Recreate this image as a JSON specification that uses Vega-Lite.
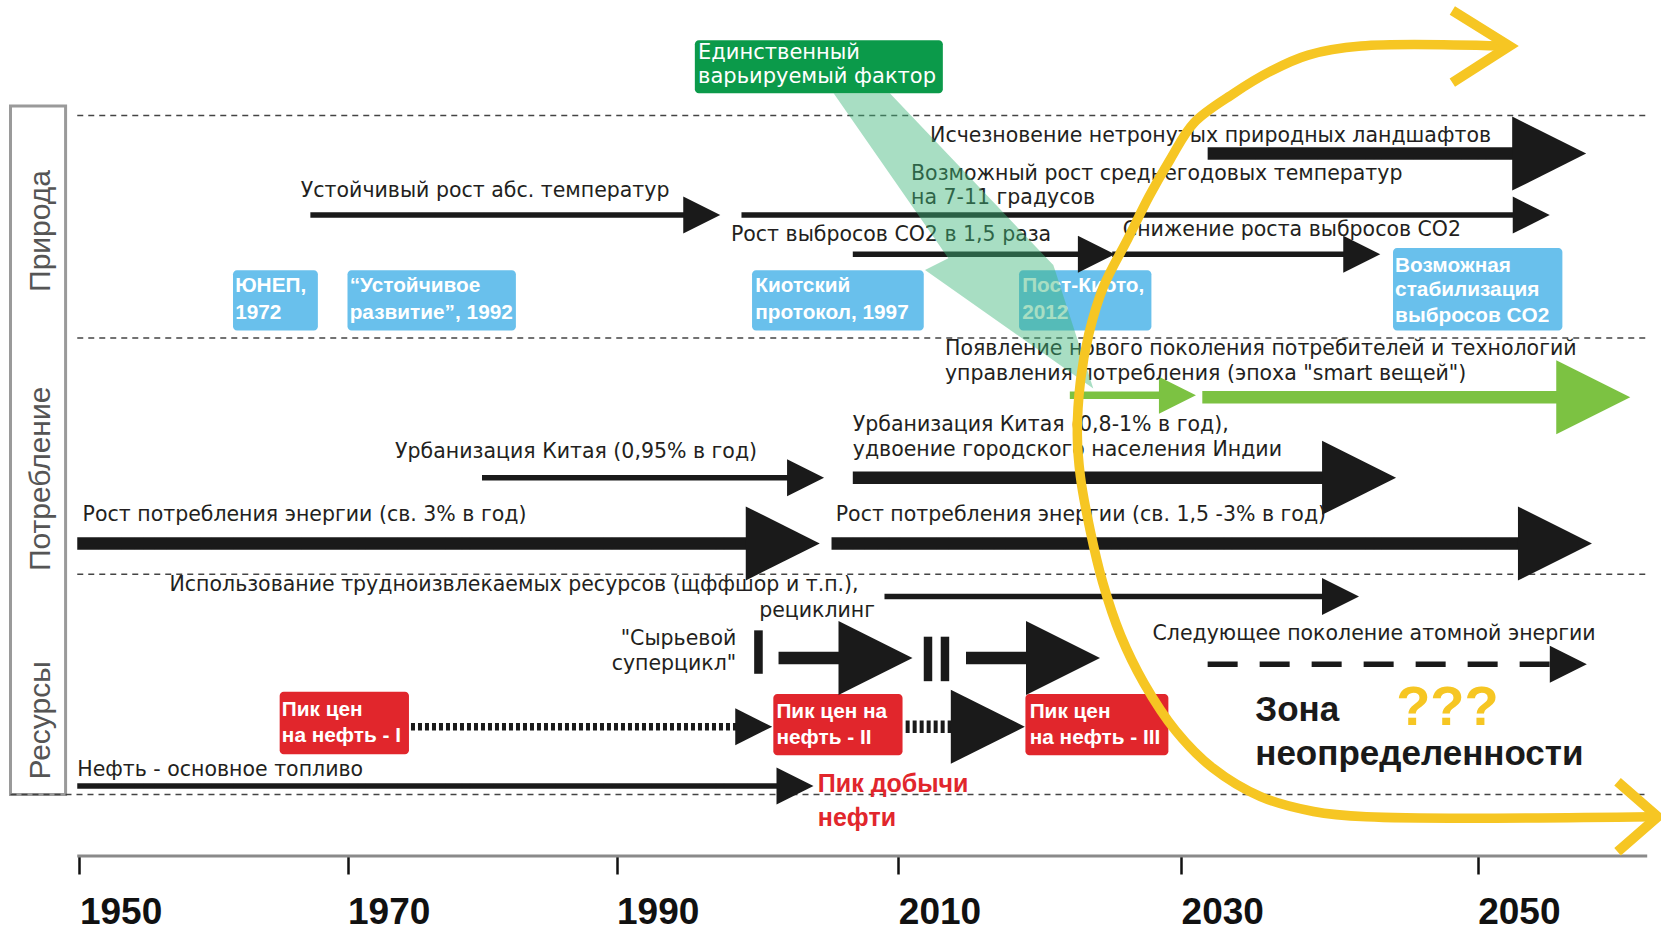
{
"$schema": "https://vega.github.io/schema/vega-lite/v6.json",
"width": 1661, "height": 856,
"autosize": {"type": "none"},
"padding": {"left": 0, "top": 0, "right": 0, "bottom": 77},
"background": "#ffffff",
"config": {"view": {"stroke": null}},
"datasets": {
"arrows": [
{"id": "a1", "x": 2031.79, "x2": 2054.82, "y": 14.5, "w": "major", "head": "big", "tone": "dark", "dash": "solid"},
{"id": "a2", "x": 1967.23, "x2": 1996.05, "y": 20.3, "w": "minor", "head": "small", "tone": "dark", "dash": "solid"},
{"id": "a3", "x": 1998.87, "x2": 2053.61, "y": 20.3, "w": "minor", "head": "small", "tone": "dark", "dash": "solid"},
{"id": "a4", "x": 2006.77, "x2": 2024.01, "y": 24.0, "w": "minor", "head": "small", "tone": "dark", "dash": "solid"},
{"id": "a5", "x": 2025.13, "x2": 2042.18, "y": 24.0, "w": "minor", "head": "small", "tone": "dark", "dash": "solid"},
{"id": "a6", "x": 2022.13, "x2": 2029.74, "y": 37.3, "w": "mid", "head": "small", "tone": "green", "dash": "solid"},
{"id": "a7", "x": 2031.43, "x2": 2057.79, "y": 37.5, "w": "major", "head": "big", "tone": "green", "dash": "solid"},
{"id": "a8", "x": 1980.00, "x2": 2003.42, "y": 45.1, "w": "minor", "head": "small", "tone": "dark", "dash": "solid"},
{"id": "a9", "x": 2006.77, "x2": 2042.00, "y": 45.1, "w": "major", "head": "big", "tone": "dark", "dash": "solid"},
{"id": "a10", "x": 1949.84, "x2": 2001.80, "y": 51.3, "w": "major", "head": "big", "tone": "dark", "dash": "solid"},
{"id": "a11", "x": 2005.26, "x2": 2055.21, "y": 51.3, "w": "major", "head": "big", "tone": "dark", "dash": "solid"},
{"id": "a12", "x": 2009.02, "x2": 2040.75, "y": 56.3, "w": "minor", "head": "small", "tone": "dark", "dash": "solid"},
{"id": "a13", "x": 2001.50, "x2": 2008.38, "y": 62.1, "w": "major", "head": "big", "tone": "dark", "dash": "solid"},
{"id": "a14", "x": 2014.79, "x2": 2021.65, "y": 62.1, "w": "major", "head": "big", "tone": "dark", "dash": "solid"},
{"id": "a15", "x": 2031.79, "x2": 2056.11, "y": 62.7, "w": "minor", "head": "small", "tone": "dark", "dash": "dashed"},
{"id": "a16", "x": 1974.72, "x2": 1999.74, "y": 68.6, "w": "mid", "head": "small", "tone": "dark", "dash": "dotted"},
{"id": "a17", "x": 2010.52, "x2": 2016.33, "y": 68.6, "w": "major", "head": "big", "tone": "dark", "dash": "dotted"},
{"id": "a18", "x": 1949.84, "x2": 2002.67, "y": 74.2, "w": "minor", "head": "small", "tone": "dark", "dash": "solid"}
],
"boxes": [
{"kind": "frame", "x": 1944.86, "x2": 1948.97, "y": 10.0, "y2": 75.0},
{"kind": "blue", "x": 1961.46, "x2": 1967.79, "y": 25.5, "y2": 31.2},
{"kind": "blue", "x": 1970.00, "x2": 1982.52, "y": 25.5, "y2": 31.2},
{"kind": "blue", "x": 1999.62, "x2": 2011.80, "y": 25.5, "y2": 31.2},
{"kind": "blue", "x": 2018.54, "x2": 2027.90, "y": 25.5, "y2": 31.2},
{"kind": "blue", "x": 2044.29, "x2": 2055.71, "y": 23.4, "y2": 31.2},
{"kind": "red", "x": 1964.94, "x2": 1974.57, "y": 65.3, "y2": 71.2},
{"kind": "red", "x": 2001.13, "x2": 2010.30, "y": 65.5, "y2": 71.3},
{"kind": "red", "x": 2018.99, "x2": 2029.10, "y": 65.5, "y2": 71.3},
{"kind": "green", "x": 1995.56, "x2": 2013.15, "y": 3.8, "y2": 8.8},
{"kind": "bar", "x": 1999.77, "x2": 2000.38, "y": 59.5, "y2": 63.6},
{"kind": "bar", "x": 2011.80, "x2": 2012.40, "y": 60.1, "y2": 64.3},
{"kind": "bar", "x": 2013.00, "x2": 2013.60, "y": 60.1, "y2": 64.3}
],
"seps": [
{"x": 1949.84, "x2": 2061.43, "y": 10.9},
{"x": 1949.84, "x2": 2061.43, "y": 31.9},
{"x": 1949.84, "x2": 2061.43, "y": 54.2},
{"x": 1944.86, "x2": 2061.43, "y": 75.0}
],
"axisline": [
{"x": 1949.84, "x2": 2061.43, "y": 80.8}
],
"labels": [
{"s": "body", "t": "Исчезновение нетронутых природных ландшафтов", "x": 2012.25, "y": 12.8},
{"s": "body", "t": "Устойчивый рост абс. температур", "x": 1966.52, "y": 18.0},
{"s": "body", "t": "Возможный рост среднегодовых температур", "x": 2010.90, "y": 16.4},
{"s": "body", "t": "на 7-11 градусов", "x": 2010.90, "y": 18.7},
{"s": "body", "t": "Рост выбросов CO2 в 1,5 раза", "x": 1998.12, "y": 22.2},
{"s": "body", "t": "Снижение роста выбросов CO2", "x": 2025.88, "y": 21.7},
{"s": "body", "t": "Появление нового поколения потребителей и технологий", "x": 2013.30, "y": 32.9},
{"s": "body", "t": "управления потребления (эпоха \"smart вещей\")", "x": 2013.30, "y": 35.3},
{"s": "body", "t": "Урбанизация Китая (0,95% в год)", "x": 1973.54, "y": 42.7},
{"s": "body", "t": "Урбанизация Китая (0,8-1% в год),", "x": 2006.77, "y": 40.1},
{"s": "body", "t": "удвоение городского населения Индии", "x": 2006.77, "y": 42.5},
{"s": "body", "t": "Рост потребления энергии (св. 3% в год)", "x": 1950.24, "y": 48.6},
{"s": "body", "t": "Рост потребления энергии (св. 1,5 -3% в год)", "x": 2005.56, "y": 48.6},
{"s": "body", "t": "Использование трудноизвлекаемых ресурсов (щффшор и т.п.),", "x": 1956.72, "y": 55.2},
{"s": "body", "t": "Следующее поколение атомной энергии", "x": 2027.98, "y": 59.8},
{"s": "body", "t": "Нефть - основное топливо", "x": 1949.84, "y": 72.7},
{"s": "bodyR", "t": "рециклинг", "x": 2008.35, "y": 57.7},
{"s": "bodyR", "t": "\"Сырьевой", "x": 1998.50, "y": 60.3},
{"s": "bodyR", "t": "суперцикл\"", "x": 1998.50, "y": 62.7},
{"s": "greenw", "t": "Единственный", "x": 1995.79, "y": 5.0},
{"s": "greenw", "t": "варьируемый фактор", "x": 1995.79, "y": 7.3},
{"s": "boxw", "t": "ЮНЕП,", "x": 1961.62, "y": 27.0},
{"s": "boxw", "t": "1972", "x": 1961.62, "y": 29.5},
{"s": "boxw", "t": "“Устойчивое", "x": 1970.16, "y": 27.0},
{"s": "boxw", "t": "развитие”, 1992", "x": 1970.16, "y": 29.5},
{"s": "boxw", "t": "Киотский", "x": 1999.85, "y": 27.0},
{"s": "boxw", "t": "протокол, 1997", "x": 1999.85, "y": 29.5},
{"s": "boxw", "t": "Пост-Киото,", "x": 2018.76, "y": 27.0},
{"s": "boxw", "t": "2012", "x": 2018.76, "y": 29.5},
{"s": "boxw", "t": "Возможная", "x": 2044.43, "y": 25.1},
{"s": "boxw", "t": "стабилизация", "x": 2044.43, "y": 27.4},
{"s": "boxw", "t": "выбросов CO2", "x": 2044.43, "y": 29.8},
{"s": "boxw", "t": "Пик цен", "x": 1965.10, "y": 67.0},
{"s": "boxw", "t": "на нефть - I", "x": 1965.10, "y": 69.5},
{"s": "boxw", "t": "Пик цен на", "x": 2001.35, "y": 67.2},
{"s": "boxw", "t": "нефть - II", "x": 2001.35, "y": 69.7},
{"s": "boxw", "t": "Пик цен", "x": 2019.29, "y": 67.2},
{"s": "boxw", "t": "на нефть - III", "x": 2019.29, "y": 69.7},
{"s": "red", "t": "Пик добычи", "x": 2004.29, "y": 74.0},
{"s": "red", "t": "нефти", "x": 2004.29, "y": 77.2},
{"s": "zone", "t": "Зона", "x": 2035.00, "y": 67.0},
{"s": "zone", "t": "неопределенности", "x": 2035.00, "y": 71.2},
{"s": "q", "t": "???", "x": 2044.50, "y": 66.8},
{"s": "side", "t": "Природа", "x": 1947.15, "y": 21.8},
{"s": "side", "t": "Потребление", "x": 1947.15, "y": 45.2},
{"s": "side", "t": "Ресурсы", "x": 1947.15, "y": 68.0}
],
"band": [
{"y": 8.8, "x": 2005.41, "x2": 2009.40},
{"y": 24.38, "x": 2013.54, "x2": 2020.50},
{"y": 25.02, "x": 2012.59, "x2": 2020.96},
{"y": 25.49, "x": 2011.89, "x2": 2021.08},
{"y": 36.66, "x": 2023.79, "x2": 2023.79}
],
"curve": [
{"i": 1, "x": 2051.64, "y": 4.35},
{"i": 2, "x": 2042.14, "y": 4.35},
{"i": 3, "x": 2038.57, "y": 5.2},
{"i": 4, "x": 2036.07, "y": 6.7},
{"i": 5, "x": 2033.57, "y": 8.8},
{"i": 6, "x": 2030.86, "y": 11.6},
{"i": 7, "x": 2029.25, "y": 15.0},
{"i": 8, "x": 2027.75, "y": 18.5},
{"i": 9, "x": 2026.25, "y": 22.5},
{"i": 10, "x": 2024.53, "y": 27.0},
{"i": 11, "x": 2023.48, "y": 31.5},
{"i": 12, "x": 2022.88, "y": 36.0},
{"i": 13, "x": 2022.66, "y": 41.0},
{"i": 14, "x": 2022.88, "y": 45.0},
{"i": 15, "x": 2023.56, "y": 50.0},
{"i": 16, "x": 2024.46, "y": 55.0},
{"i": 17, "x": 2025.73, "y": 60.0},
{"i": 18, "x": 2027.38, "y": 64.5},
{"i": 19, "x": 2029.63, "y": 69.0},
{"i": 20, "x": 2032.14, "y": 72.5},
{"i": 21, "x": 2035.36, "y": 75.2},
{"i": 22, "x": 2038.93, "y": 76.6},
{"i": 23, "x": 2042.50, "y": 77.1},
{"i": 24, "x": 2061.79, "y": 77.1}
],
"chev": [
{"part": "top", "i": 1, "x": 2048.29, "y": 1.0},
{"part": "top", "i": 2, "x": 2052.14, "y": 4.35},
{"part": "top", "i": 3, "x": 2048.29, "y": 7.8},
{"part": "bottom", "i": 1, "x": 2059.43, "y": 73.8},
{"part": "bottom", "i": 2, "x": 2062.14, "y": 77.1},
{"part": "bottom", "i": 3, "x": 2059.43, "y": 80.4}
]
},
"encoding": {
"x": {"field": "x", "type": "quantitative", "scale": {"domain": [1950, 1970, 1990, 2010, 2030, 2050], "range": [79.4, 347.5, 616.5, 898.3, 1181.1, 1477.7], "nice": false, "zero": false},
 "axis": {"values": [1950, 1970, 1990, 2010, 2030, 2050], "format": "d", "title": null, "domain": false, "grid": false, "tickColor": "#111111", "tickWidth": 2.5, "tickSize": 18, "labelFont": "Liberation Sans", "labelFontWeight": "bold", "labelFontSize": 37, "labelColor": "#111111", "labelAlign": "left", "labelBaseline": "top", "labelPadding": 20, "labelFlush": false, "labelOverlap": false, "labelBound": false}},
"y": {"field": "y", "type": "quantitative", "scale": {"domain": [0, 80.8], "reverse": true, "nice": false, "zero": false}, "axis": null}
},
"layer": [
{"data": {"name": "boxes"}, "transform": [{"filter": "datum.kind === 'frame'"}], "mark": {"type": "rect", "fill": "#ffffff", "stroke": "#9a9a9a", "strokeWidth": 3}, "encoding": {"x2": {"field": "x2"}, "y2": {"field": "y2"}}},
{"data": {"name": "seps"}, "mark": {"type": "rule", "color": "#444444", "strokeWidth": 1.5, "strokeDash": [6, 5]}, "encoding": {"x2": {"field": "x2"}}},
{"data": {"name": "axisline"}, "mark": {"type": "rule", "color": "#8a8a8a", "strokeWidth": 3}, "encoding": {"x2": {"field": "x2"}}},
{"data": {"name": "boxes"}, "transform": [{"filter": "datum.kind === 'blue'"}], "mark": {"type": "rect", "fill": "#69c0ec", "cornerRadius": 4}, "encoding": {"x2": {"field": "x2"}, "y2": {"field": "y2"}}},
{"data": {"name": "boxes"}, "transform": [{"filter": "datum.kind === 'red'"}], "mark": {"type": "rect", "fill": "#e1262c", "cornerRadius": 4}, "encoding": {"x2": {"field": "x2"}, "y2": {"field": "y2"}}},
{"data": {"name": "boxes"}, "transform": [{"filter": "datum.kind === 'green'"}], "mark": {"type": "rect", "fill": "#0b9a4a", "cornerRadius": 4}, "encoding": {"x2": {"field": "x2"}, "y2": {"field": "y2"}}},
{"data": {"name": "boxes"}, "transform": [{"filter": "datum.kind === 'bar'"}], "mark": {"type": "rect", "fill": "#1a1a1a"}, "encoding": {"x2": {"field": "x2"}, "y2": {"field": "y2"}}},
{"data": {"name": "arrows"}, "transform": [{"filter": "datum.w === 'major'"}], "mark": {"type": "rule", "strokeWidth": 12.5},
 "encoding": {"x2": {"field": "x2"},
  "color": {"field": "tone", "type": "nominal", "scale": {"domain": ["dark", "green"], "range": ["#1a1a1a", "#7cc242"]}, "legend": null},
  "strokeDash": {"field": "dash", "type": "nominal", "scale": {"domain": ["solid", "dashed", "dotted"], "range": [[1, 0], [30, 22], [4, 3]]}, "legend": null}}},
{"data": {"name": "arrows"}, "transform": [{"filter": "datum.w === 'mid'"}], "mark": {"type": "rule", "strokeWidth": 7.5},
 "encoding": {"x2": {"field": "x2"},
  "color": {"field": "tone", "type": "nominal", "scale": {"domain": ["dark", "green"], "range": ["#1a1a1a", "#7cc242"]}, "legend": null},
  "strokeDash": {"field": "dash", "type": "nominal", "scale": {"domain": ["solid", "dashed", "dotted"], "range": [[1, 0], [30, 22], [4, 3]]}, "legend": null}}},
{"data": {"name": "arrows"}, "transform": [{"filter": "datum.w === 'minor'"}], "mark": {"type": "rule", "strokeWidth": 5.5},
 "encoding": {"x2": {"field": "x2"},
  "color": {"field": "tone", "type": "nominal", "scale": {"domain": ["dark", "green"], "range": ["#1a1a1a", "#7cc242"]}, "legend": null},
  "strokeDash": {"field": "dash", "type": "nominal", "scale": {"domain": ["solid", "dashed", "dotted"], "range": [[1, 0], [30, 22], [4, 3]]}, "legend": null}}},
{"data": {"name": "arrows"}, "transform": [{"filter": "datum.head === 'big'"}], "mark": {"type": "point", "shape": "M-1,-1L1,0L-1,1Z", "filled": true, "opacity": 1, "size": 5476, "strokeWidth": 0},
 "encoding": {"x": {"field": "x2", "type": "quantitative", "axis": {"values": [1950, 1970, 1990, 2010, 2030, 2050], "format": "d", "title": null, "domain": false, "grid": false, "tickColor": "#111111", "tickWidth": 2.5, "tickSize": 18, "labelFont": "Liberation Sans", "labelFontWeight": "bold", "labelFontSize": 37, "labelColor": "#111111", "labelAlign": "left", "labelBaseline": "top", "labelPadding": 20, "labelFlush": false, "labelOverlap": false, "labelBound": false}},
  "color": {"field": "tone", "type": "nominal", "scale": {"domain": ["dark", "green"], "range": ["#1a1a1a", "#7cc242"]}, "legend": null}}},
{"data": {"name": "arrows"}, "transform": [{"filter": "datum.head === 'small'"}], "mark": {"type": "point", "shape": "M-1,-1L1,0L-1,1Z", "filled": true, "opacity": 1, "size": 1369, "strokeWidth": 0},
 "encoding": {"x": {"field": "x2", "type": "quantitative", "axis": {"values": [1950, 1970, 1990, 2010, 2030, 2050], "format": "d", "title": null, "domain": false, "grid": false, "tickColor": "#111111", "tickWidth": 2.5, "tickSize": 18, "labelFont": "Liberation Sans", "labelFontWeight": "bold", "labelFontSize": 37, "labelColor": "#111111", "labelAlign": "left", "labelBaseline": "top", "labelPadding": 20, "labelFlush": false, "labelOverlap": false, "labelBound": false}},
  "color": {"field": "tone", "type": "nominal", "scale": {"domain": ["dark", "green"], "range": ["#1a1a1a", "#7cc242"]}, "legend": null}}},
{"data": {"name": "labels"}, "transform": [{"filter": "datum.s === 'body'"}], "mark": {"type": "text", "align": "left", "baseline": "middle", "font": "DejaVu Sans", "fontSize": 20.5, "color": "#231f20"}, "encoding": {"text": {"field": "t"}}},
{"data": {"name": "labels"}, "transform": [{"filter": "datum.s === 'bodyR'"}], "mark": {"type": "text", "align": "right", "baseline": "middle", "font": "DejaVu Sans", "fontSize": 20.5, "color": "#231f20"}, "encoding": {"text": {"field": "t"}}},
{"data": {"name": "labels"}, "transform": [{"filter": "datum.s === 'greenw'"}], "mark": {"type": "text", "align": "left", "baseline": "middle", "font": "DejaVu Sans", "fontSize": 21, "color": "#ffffff"}, "encoding": {"text": {"field": "t"}}},
{"data": {"name": "labels"}, "transform": [{"filter": "datum.s === 'boxw'"}], "mark": {"type": "text", "align": "left", "baseline": "middle", "font": "Liberation Sans", "fontWeight": "bold", "fontSize": 20.8, "color": "#ffffff"}, "encoding": {"text": {"field": "t"}}},
{"data": {"name": "labels"}, "transform": [{"filter": "datum.s === 'red'"}], "mark": {"type": "text", "align": "left", "baseline": "middle", "font": "Liberation Sans", "fontWeight": "bold", "fontSize": 25, "color": "#e1262c"}, "encoding": {"text": {"field": "t"}}},
{"data": {"name": "labels"}, "transform": [{"filter": "datum.s === 'zone'"}], "mark": {"type": "text", "align": "left", "baseline": "middle", "font": "Liberation Sans", "fontWeight": "bold", "fontSize": 35, "color": "#1a1a1a"}, "encoding": {"text": {"field": "t"}}},
{"data": {"name": "labels"}, "transform": [{"filter": "datum.s === 'q'"}], "mark": {"type": "text", "align": "left", "baseline": "middle", "font": "Liberation Sans", "fontWeight": "bold", "fontSize": 56, "color": "#f6c623"}, "encoding": {"text": {"field": "t"}}},
{"data": {"name": "labels"}, "transform": [{"filter": "datum.s === 'side'"}], "mark": {"type": "text", "align": "center", "baseline": "middle", "angle": 270, "font": "Liberation Sans", "fontSize": 30, "color": "#555555"}, "encoding": {"text": {"field": "t"}}},
{"data": {"name": "band"}, "mark": {"type": "area", "orient": "horizontal", "color": "#3fb57a", "opacity": 0.45}, "encoding": {"x2": {"field": "x2"}}},
{"data": {"name": "curve"}, "mark": {"type": "line", "interpolate": "catmull-rom", "color": "#f6c623", "strokeWidth": 9.5, "strokeCap": "butt"}, "encoding": {"order": {"field": "i", "type": "quantitative"}}},
{"data": {"name": "chev"}, "mark": {"type": "line", "color": "#f6c623", "strokeWidth": 10, "strokeJoin": "miter"}, "encoding": {"detail": {"field": "part", "type": "nominal"}, "order": {"field": "i", "type": "quantitative"}}}
]
}
